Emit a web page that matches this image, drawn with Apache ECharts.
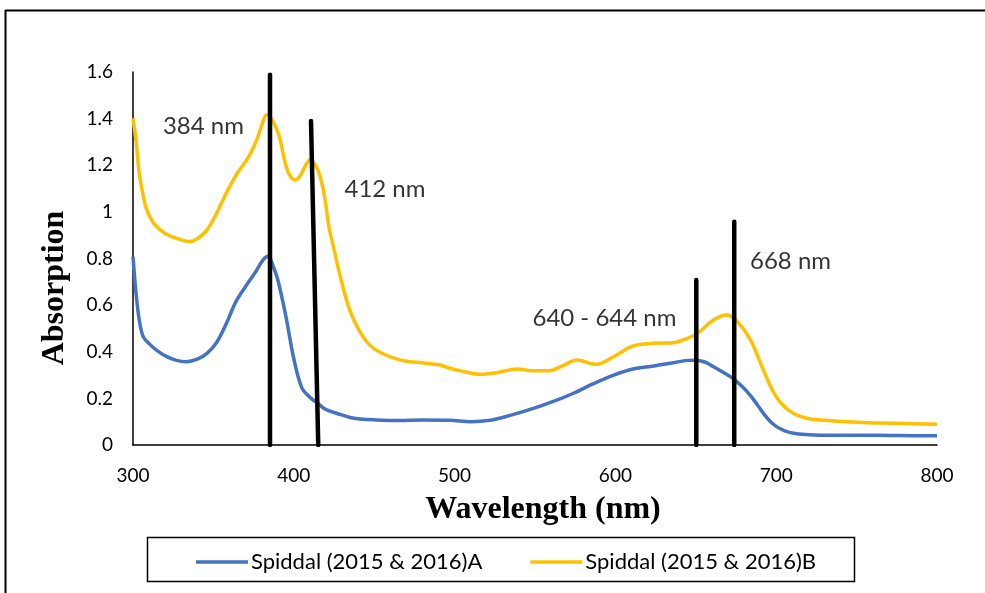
<!DOCTYPE html>
<html>
<head>
<meta charset="utf-8">
<script src="https://cdn.jsdelivr.net/npm/echarts@6/dist/echarts.min.js"></script>
<style>html,body{margin:0;padding:0;background:#fff;}#c{width:985px;height:593px;}</style>
</head>
<body>
<div id="c"></div>
<script>
// Series A (blue)
const wlA = [300,303,306,310,315,321,327,333,340,346,352,358,364,370,376,381,384,387,390,395,400,405,410,415,420,427,435,441,450,466,480,497,510,522,535,549,561,574,586,599,611,624,636,645,650,656,661,667,673,679,684,688,692,696,700,705,711,720,727,740,754,770,785,800];
const absA = [0.808,0.58,0.47,0.435,0.405,0.379,0.363,0.357,0.368,0.393,0.44,0.52,0.615,0.68,0.74,0.795,0.81,0.77,0.71,0.555,0.37,0.245,0.205,0.178,0.152,0.135,0.118,0.112,0.108,0.105,0.107,0.106,0.1,0.106,0.128,0.157,0.186,0.222,0.262,0.3,0.326,0.339,0.353,0.363,0.364,0.355,0.336,0.312,0.286,0.25,0.212,0.175,0.136,0.103,0.08,0.062,0.05,0.044,0.042,0.042,0.042,0.041,0.04,0.04];
// Series B (yellow)
const wlB = [300,302,304,308,312,317,322,327,335,340,346,351,356,361,365,370,373,377,380,383,385,388,391,395,398,401,404,407,410,413,416,419,422,425,429,435,443,451,466,482,491,497,503,516,526,539,549,559,568,576,588,599,611,624,636,644,651,661,669,675,684,692,700,709,719,734,754,775,800];
const absB = [1.402,1.3,1.16,1.02,0.96,0.923,0.9,0.887,0.873,0.885,0.923,0.98,1.052,1.12,1.168,1.215,1.25,1.31,1.37,1.416,1.41,1.375,1.323,1.2,1.15,1.137,1.155,1.195,1.222,1.205,1.16,1.07,0.93,0.84,0.72,0.575,0.465,0.408,0.365,0.351,0.343,0.329,0.319,0.303,0.31,0.326,0.318,0.319,0.343,0.365,0.346,0.379,0.425,0.436,0.439,0.455,0.479,0.536,0.558,0.536,0.451,0.322,0.207,0.143,0.115,0.104,0.096,0.093,0.089];
const seriesNames = ['Spiddal (2015 & 2016)A','Spiddal (2015 & 2016)B'];
// Peak marker lines: [wavelength at bottom, wavelength at top, top absorption]
const markerBottomWl = [385.2, 415.2, 650.3, 673.9];
const markerTopWl = [385.2, 410.7, 650.3, 673.9];
const markerTopAbs = [1.588, 1.39, 0.708, 0.958];
// Annotations
const annoText = ['384 nm','412 nm','640 - 644 nm','668 nm'];
const annoWl = [343.8, 456.7, 593.2, 708.9];
const annoAbs = [1.369, 1.099, 0.545, 0.79];
// Axis
const xTicks = [300,400,500,600,700,800];
const yTicks = [0,0.2,0.4,0.6,0.8,1,1.2,1.4,1.6];

const chart = echarts.init(document.getElementById('c'), null, {renderer:'canvas'});
const zip = (xs, ys) => xs.map((x,i)=>[x, ys[i]]);
const series = [
  {name: seriesNames[0], type:'line', data: zip(wlA, absA), smooth: 0.35, showSymbol:false, symbol:'none',
   lineStyle:{color:'#4472C4', width:3.5}, itemStyle:{color:'#4472C4'}},
  {name: seriesNames[1], type:'line', data: zip(wlB, absB), smooth: 0.35, showSymbol:false, symbol:'none',
   lineStyle:{color:'#FFC000', width:3.5}, itemStyle:{color:'#FFC000'}}
];
markerTopAbs.forEach((v,i)=>{
  series.push({type:'line', data:[[markerBottomWl[i],0],[markerTopWl[i],v]], symbol:'none', silent:true,
    lineStyle:{color:'#000', width:4.5, cap:'round'}, z:5});
});
series.push({type:'scatter', symbolSize:1, itemStyle:{color:'rgba(0,0,0,0)'}, silent:true,
  data: annoText.map((t,i)=>({name:t, value:[annoWl[i], annoAbs[i]]})),
  label:{show:true, position:'inside', formatter:'{b}', color:'#000', fontSize:24, fontFamily:'Lato'}, z:6});

chart.setOption({
  animation:false,
  backgroundColor:'#fff',
  grid:{left:133, right:48, top:72, bottom:148, containLabel:false},
  xAxis:{type:'value', min:xTicks[0], max:xTicks[xTicks.length-1], interval:100,
    axisLine:{show:true, onZero:false, lineStyle:{color:'#000', width:1.5}},
    axisTick:{show:false}, splitLine:{show:false},
    axisLabel:{color:'#000', fontSize:19, fontFamily:'Lato', margin:21}},
  yAxis:{type:'value', min:yTicks[0], max:yTicks[yTicks.length-1], interval:0.2,
    axisLine:{show:true, lineStyle:{color:'#000', width:1.5}},
    axisTick:{show:false}, splitLine:{show:false},
    axisLabel:{color:'#000', fontSize:19, fontFamily:'Lato', margin:20,
      formatter:(v)=>String(Math.round(v*10)/10)}},
  legend:{data:seriesNames, left:191, top:546, itemWidth:52, itemHeight:3.5, icon:'rect', itemGap:48,
    textStyle:{color:'#000', fontSize:22, fontFamily:'Lato', padding:[0,0,0,-2]}},
  graphic:[
    {type:'line', shape:{x1:5, y1:10.5, x2:985, y2:10.5}, style:{stroke:'#000', lineWidth:2}},
    {type:'line', shape:{x1:5.5, y1:10, x2:5.5, y2:593}, style:{stroke:'#000', lineWidth:2}},
    {type:'rect', shape:{x:147.5, y:537.5, width:707, height:44}, style:{fill:'none', stroke:'#000', lineWidth:1.5}},
    {type:'text', x:543, y:510, style:{text:'Wavelength (nm)', font:'bold 32px "Liberation Serif"', fill:'#000', textAlign:'center', textVerticalAlign:'middle'}},
    {type:'text', x:55, y:288, rotation:Math.PI/2, style:{text:'Absorption', font:'bold 32px "Liberation Serif"', fill:'#000', textAlign:'center', textVerticalAlign:'middle'}}
  ],
  series: series
});
</script>
</body>
</html>
